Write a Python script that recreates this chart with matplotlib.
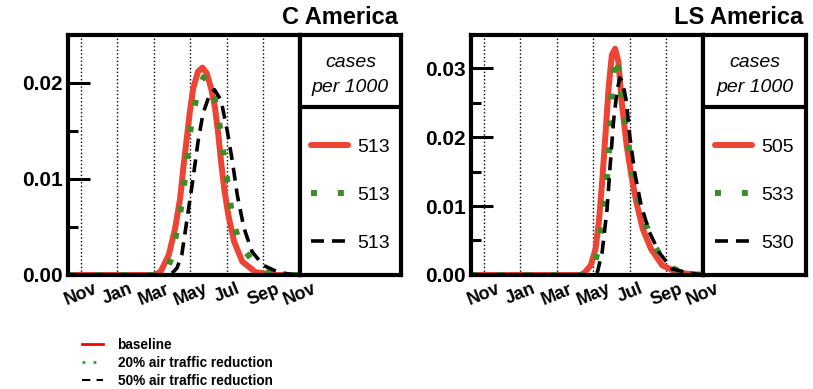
import matplotlib.pyplot as plt
from matplotlib.lines import Line2D
from matplotlib.ticker import MultipleLocator, FormatStrFormatter

plt.rcParams['font.family'] = ['Liberation Sans', 'DejaVu Sans']

# x axis in months counted from November
months = [0, 2, 4, 6, 8, 10, 12]
month_labels = ['Nov', 'Jan', 'Mar', 'May', 'Jul', 'Sep', 'Nov']

# C America
c_base_x = [-0.7, 4.0, 4.36, 4.82, 5.17, 5.44, 5.61, 5.80, 5.97, 6.15, 6.42, 6.66, 6.90, 7.14,
            7.35, 7.53, 7.68, 7.85, 8.07, 8.39, 8.84, 9.56, 10.6, 12.0]
c_base_y = [0, 0, 0.0003, 0.0021, 0.0049, 0.0080, 0.0111, 0.0142, 0.0170, 0.0194, 0.0212, 0.0216,
            0.0210, 0.0194, 0.0174, 0.0146, 0.0118, 0.0090, 0.0063, 0.0035, 0.0014, 0.0003, 0, 0]
c_20_x = [-0.7, 4.55, 4.99, 5.26, 5.53, 5.70, 5.88, 6.06, 6.37, 6.72, 7.09, 7.46, 7.68, 7.89,
          8.09, 8.30, 8.70, 9.59, 10.6, 12.0]
c_20_y = [0, 0, 0.0018, 0.0046, 0.0074, 0.0101, 0.0130, 0.0160, 0.0188, 0.0206, 0.0202, 0.0174,
          0.0146, 0.0117, 0.0089, 0.0060, 0.0032, 0.0010, 0, 0]
c_50_x = [-0.7, 4.9, 5.26, 5.53, 5.88, 6.15, 6.42, 6.69, 7.05, 7.32, 7.68, 8.03, 8.30, 8.57,
          8.93, 9.38, 10.0, 10.8, 11.7, 12.0]
c_50_y = [0, 0, 0.0007, 0.0021, 0.0066, 0.0101, 0.0139, 0.0168, 0.0188, 0.0193, 0.0182, 0.0149,
          0.0118, 0.0083, 0.0049, 0.0024, 0.0010, 0.0003, 0, 0]
c_cases = ['513', '513', '513']

# LS America
ls_base_x = [-0.7, 5.3, 5.50, 5.86, 6.12, 6.30, 6.48, 6.66, 6.83, 7.01, 7.19, 7.37, 7.55, 7.82,
             8.08, 8.35, 8.70, 9.15, 9.77, 10.66, 12.0]
ls_base_y = [0, 0, 0.0003, 0.0014, 0.0038, 0.0077, 0.0135, 0.0203, 0.0270, 0.0319, 0.0328, 0.0309,
             0.0251, 0.0188, 0.0144, 0.0106, 0.0067, 0.0038, 0.0014, 0.0003, 0]
ls_20_x = [-0.7, 5.5, 5.95, 6.21, 6.48, 6.66, 6.78, 6.89, 6.96, 7.01, 7.2, 7.30, 7.63, 7.85,
           8.08, 8.35, 8.74, 9.33, 9.99, 11.0, 12.0]
ls_20_y = [0, 0, 0.0005, 0.0031, 0.0072, 0.0112, 0.0152, 0.0192, 0.0231, 0.0271, 0.0318, 0.0312,
           0.0242, 0.0202, 0.0161, 0.0122, 0.0082, 0.0043, 0.0014, 0.0002, 0]
ls_50_x = [-0.7, 6.0, 6.21, 6.48, 6.75, 6.92, 7.10, 7.30, 7.45, 7.60, 7.81, 7.99, 8.26, 8.61,
           9.07, 9.59, 10.30, 11.19, 12.0]
ls_50_y = [0, 0, 0.0003, 0.0033, 0.0096, 0.0159, 0.0222, 0.0268, 0.0286, 0.0280, 0.0251, 0.0202,
           0.0149, 0.0101, 0.0062, 0.0033, 0.0009, 0.0003, 0]
ls_cases = ['505', '533', '530']

RED = '#ee4433'
GREEN = '#3c8c28'


def panel(ax, box, title, title_x, data, cases, ymax):
    (bx, by), (gx, gy), (kx, ky) = data
    l1, = ax.plot(bx, by, color=RED, lw=4.3, solid_capstyle='round')
    l2, = ax.plot(gx, gy, color=GREEN, lw=4.3, linestyle=(0, (1, 3.5)))
    l3, = ax.plot(kx, ky, color='black', lw=2.6, linestyle=(0, (3.6, 2.2)))
    ax.set_xlim(-0.7, 12)
    ax.set_ylim(0, ymax)
    ax.set_xticks(months)
    ax.set_xticklabels(month_labels, rotation=22, fontsize=13, fontweight='bold')
    ax.tick_params(axis='x', length=0, pad=4)
    ax.grid(axis='x', linestyle=':', color='black', lw=1)
    ax.yaxis.set_major_locator(MultipleLocator(0.01))
    ax.yaxis.set_minor_locator(MultipleLocator(0.005))
    ax.yaxis.set_major_formatter(FormatStrFormatter('%.2f'))
    ax.tick_params(axis='y', which='major', direction='in', length=16, width=2.2, pad=4,
                   labelsize=15)
    ax.tick_params(axis='y', which='minor', direction='in', length=7, width=2.2)
    for t in ax.get_yticklabels():
        t.set_fontweight('bold')
    for s in ax.spines.values():
        s.set_linewidth(3)

    box.set_xticks([])
    box.set_yticks([])
    box.set_xlim(0, 1)
    box.set_ylim(0, 1)
    for s in box.spines.values():
        s.set_linewidth(3)
    box.axhline(0.70, color='black', lw=3)
    box.text(0.5, 0.887, 'cases', style='italic', ha='center', va='center', fontsize=14)
    box.text(0.5, 0.783, 'per 1000', style='italic', ha='center', va='center', fontsize=14)
    box.legend([l1, l2, l3], cases, loc='center', bbox_to_anchor=(0.5, 0.333),
               frameon=False, fontsize=14, handlelength=1.9, handletextpad=0.5,
               labelspacing=1.55, borderpad=0)
    fig.text(title_x, 0.954, title, ha='right', va='center', fontsize=17, fontweight='bold')


fig = plt.figure(figsize=(8.13, 3.89), dpi=100)
ax1 = fig.add_axes([0.0836, 0.2931, 0.2854, 0.617])
box1 = fig.add_axes([0.369, 0.2931, 0.124, 0.617])
ax2 = fig.add_axes([0.5793, 0.2931, 0.2854, 0.617])
box2 = fig.add_axes([0.8647, 0.2931, 0.127, 0.617])

panel(ax1, box1, 'C America', 0.4895, [(c_base_x, c_base_y), (c_20_x, c_20_y), (c_50_x, c_50_y)],
      c_cases, 0.025)
panel(ax2, box2, 'LS America', 0.988, [(ls_base_x, ls_base_y), (ls_20_x, ls_20_y),
                                        (ls_50_x, ls_50_y)], ls_cases, 0.0348)

handles = [Line2D([], [], color='red', lw=2),
           Line2D([], [], color='#22aa22', lw=2, linestyle=(0, (1, 3))),
           Line2D([], [], color='black', lw=1.5, linestyle=(0, (4, 3)))]
fig.legend(handles, ['baseline', '20% air traffic reduction', '50% air traffic reduction'],
           loc='upper left', bbox_to_anchor=(0.101, 0.131), frameon=False,
           prop={'size': 9.8, 'weight': 'bold'}, handlelength=1.5, handletextpad=1.1,
           labelspacing=0.3, borderpad=0, borderaxespad=0)

fig.savefig('out.png', dpi=100)
